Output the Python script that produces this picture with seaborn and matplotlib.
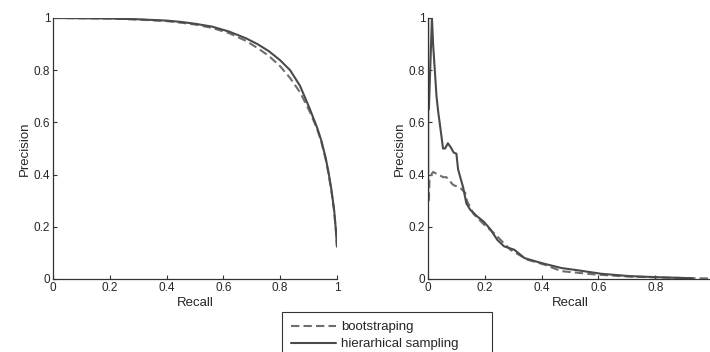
import numpy as np
import pandas as pd
import matplotlib
matplotlib.use("Agg")
import matplotlib.pyplot as plt
import seaborn as sns

# left panel: precision-recall curves
recall_l = [0.0, 0.1, 0.2, 0.3, 0.4, 0.45, 0.5, 0.56, 0.62, 0.68, 0.72, 0.76, 0.8, 0.835,
            0.87, 0.905, 0.93, 0.945, 0.96, 0.97, 0.98, 0.99, 0.996, 1.0]
hier_l = [1.0, 0.999, 0.998, 0.995, 0.99, 0.985, 0.978, 0.967, 0.948, 0.922, 0.9, 0.873, 0.838, 0.80,
          0.74, 0.65, 0.58, 0.53, 0.465, 0.41, 0.345, 0.265, 0.19, 0.124]
boot_l = [1.0, 0.999, 0.998, 0.994, 0.988, 0.982, 0.975, 0.962, 0.942, 0.912, 0.885, 0.855, 0.815, 0.77,
          0.715, 0.64, 0.575, 0.525, 0.46, 0.405, 0.34, 0.26, 0.19, 0.124]

# right panel
recall_r_h = [0.003, 0.003, 0.014, 0.018, 0.024, 0.03, 0.036, 0.041, 0.053, 0.06, 0.07, 0.08, 0.09, 0.1,
              0.106, 0.124, 0.135, 0.149, 0.173, 0.196, 0.22, 0.244, 0.268, 0.304, 0.34, 0.40, 0.47,
              0.53, 0.61, 0.71, 0.83, 0.93]
hier_r = [0.3, 1.0, 1.0, 0.9, 0.8, 0.7, 0.64, 0.6, 0.5, 0.5, 0.52, 0.505, 0.485, 0.48,
          0.42, 0.35, 0.29, 0.265, 0.24, 0.22, 0.19, 0.15, 0.125, 0.112, 0.08, 0.061, 0.042,
          0.033, 0.02, 0.011, 0.006, 0.003]
recall_r_b = [0.003, 0.005, 0.012, 0.018, 0.036, 0.054, 0.065, 0.089, 0.113, 0.131, 0.137, 0.16, 0.196,
              0.232, 0.29, 0.35, 0.41, 0.47, 0.59, 0.71, 0.89, 1.0]
boot_r = [0.3, 0.38, 0.40, 0.41, 0.40, 0.39, 0.39, 0.36, 0.35, 0.33, 0.30, 0.25, 0.21,
          0.176, 0.112, 0.074, 0.055, 0.03, 0.017, 0.009, 0.004, 0.002]

sns.set_style("white")
plt.rcParams['font.family'] = ['Liberation Sans', 'DejaVu Sans']

solid_c = '#4a4a4a'
dash_c = '#6e6e6e'

fig = plt.figure(figsize=(7.1, 3.52), dpi=100)
ax1 = fig.add_axes([0.0746, 0.2074, 0.40, 0.7415])
ax2 = fig.add_axes([0.6028, 0.2074, 0.40, 0.7415])

for ax, rb, b, rh, h in [(ax1, recall_l, boot_l, recall_l, hier_l),
                         (ax2, recall_r_b, boot_r, recall_r_h, hier_r)]:
    sns.lineplot(x=rb, y=b, ax=ax, sort=False, color=dash_c, lw=1.5,
                 linestyle=(0, (4, 2)), label='bootstraping')
    sns.lineplot(x=rh, y=h, ax=ax, sort=False, color=solid_c, lw=1.5,
                 label='hierarhical sampling')
    ax.set_xlim(0, 1)
    ax.set_ylim(0, 1)
    ax.set_yticks([0, 0.2, 0.4, 0.6, 0.8, 1])
    ax.set_yticklabels(['0', '0.2', '0.4', '0.6', '0.8', '1'])
    ax.set_xlabel('Recall', fontsize=9.5, labelpad=2)
    ax.set_ylabel('Precision', fontsize=9.5, labelpad=2)
    ax.tick_params(bottom=True, left=True, direction='in', labelsize=8.5,
                   length=3, width=0.8, color='#333333', pad=2)
    sns.despine(ax=ax)
    for s in ['left', 'bottom']:
        ax.spines[s].set_color('#333333')
        ax.spines[s].set_linewidth(0.9)
    ax.get_legend().remove()

ax1.set_xticks([0, 0.2, 0.4, 0.6, 0.8, 1])
ax1.set_xticklabels(['0', '0.2', '0.4', '0.6', '0.8', '1'])
ax2.set_xticks([0, 0.2, 0.4, 0.6, 0.8])
ax2.set_xticklabels(['0', '0.2', '0.4', '0.6', '0.8'])

handles, labels = ax1.get_legend_handles_labels()
leg = fig.legend(handles, labels, loc='upper left', bbox_to_anchor=(0.397, 0, 0.296, 0.114),
                 mode='expand', fontsize=9.5, frameon=True, fancybox=False, edgecolor='black',
                 borderpad=0.7, labelspacing=0.35, handlelength=3.4, handletextpad=0.4,
                 borderaxespad=0)
leg.get_frame().set_linewidth(0.8)

fig.savefig('out.png', dpi=100)
